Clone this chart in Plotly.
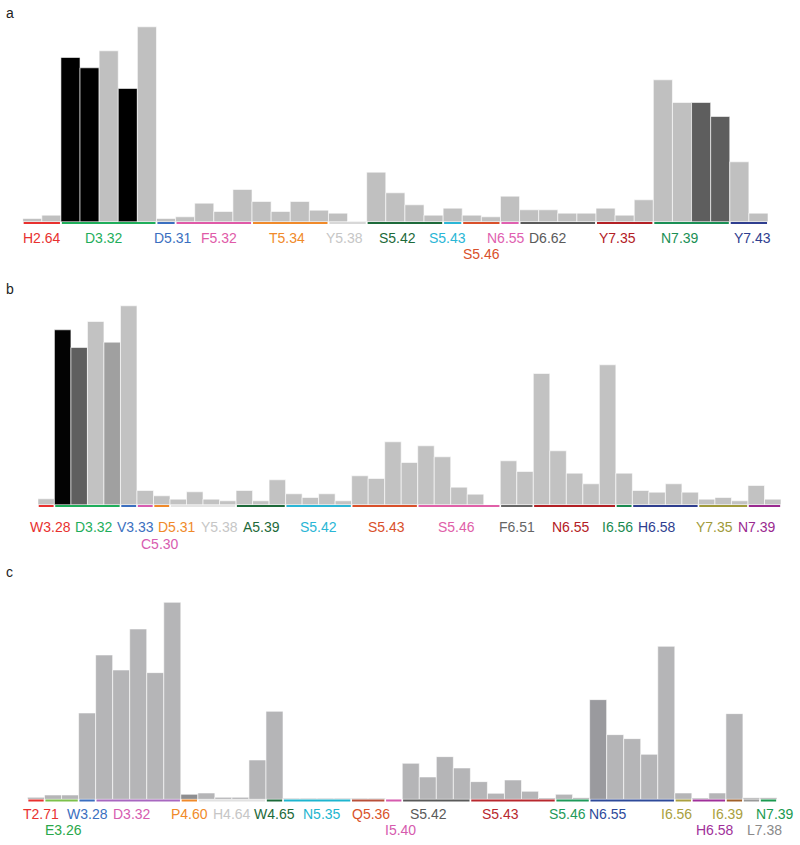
import plotly.graph_objects as go

FONT = "Liberation Sans, Arial, Helvetica, sans-serif"

# ---------------- panel a ----------------
A_RESIDUES = ["H2.64", "D3.32", "D5.31", "F5.32", "T5.34", "Y5.38", "S5.42",
              "S5.43", "S5.46", "N6.55", "D6.62", "Y7.35", "N7.39", "Y7.43"]
A_BARS_PER_RESIDUE = [2, 5, 1, 4, 4, 2, 4, 1, 2, 1, 4, 3, 4, 2]
A_FREQ = [1.0, 2.0, 49.3, 46.2, 51.3, 40.0, 58.5, 1.0, 1.5, 5.6,
          3.1, 9.7, 6.1, 3.1, 6.1, 3.5, 2.6, 0.2, 14.9, 8.7,
          5.1, 2.0, 4.1, 2.0, 1.5, 7.7, 3.6, 3.6, 2.6, 2.6,
          4.1, 2.0, 6.6, 42.6, 35.8, 35.8, 31.6, 18.0, 2.6]
# L = light, M = medium, D = dark, K = black
A_SHADE = "LLKKLKLLLL" "LLLLLLLLLL" "LLLLLLLLLL" "LLLLLDDLL"

# ---------------- panel b ----------------
B_RESIDUES = ["W3.28", "D3.32", "V3.33", "C5.30", "D5.31", "Y5.38", "A5.39", "S5.42",
              "S5.43", "S5.46", "F6.51", "N6.55", "I6.56", "H6.58", "Y7.35", "N7.39"]
B_BARS_PER_RESIDUE = [1, 4, 1, 1, 1, 4, 3, 4, 4, 5, 2, 5, 1, 4, 3, 2]
B_FREQ = [1.8, 52.5, 47.2, 55.0, 48.8, 59.7, 4.3, 2.7, 1.7, 3.9,
          1.7, 1.2, 4.3, 1.2, 7.5, 3.3, 2.2, 3.3, 1.2, 8.7,
          7.9, 18.9, 12.7, 17.7, 14.4, 5.3, 3.2, 0.0, 13.2, 10.0,
          39.4, 16.2, 9.5, 6.3, 42.0, 9.5, 4.3, 3.8, 6.3, 3.8,
          1.7, 2.2, 1.2, 5.8, 1.7]
B_SHADE = "LKDLMLLLLL" "LLLLLLLLLL" "LLLLLLLLLL" "LLLLLLLLLL" "LLLLL"

# ---------------- panel c ----------------
C_RESIDUES = ["T2.71", "E3.26", "W3.28", "D3.32", "P4.60", "H4.64", "W4.65", "N5.35",
              "Q5.36", "I5.40", "S5.42", "S5.43", "S5.46", "N6.55", "I6.56", "H6.58",
              "I6.39", "L7.38", "N7.39"]
C_BARS_PER_RESIDUE = [1, 2, 1, 5, 1, 4, 1, 4, 2, 1, 4, 5, 2, 5, 1, 2, 1, 1, 1]
C_FREQ = [0.6, 1.3, 1.3, 25.9, 43.3, 38.8, 51.1, 38.0, 59.1, 1.5,
          1.9, 0.6, 0.6, 11.8, 26.4, 0.3, 0.3, 0.3, 0.3, 0.3,
          0.3, 0.0, 10.8, 6.7, 12.8, 9.4, 5.3, 1.8, 5.8, 2.4,
          0.4, 1.5, 0.5, 29.9, 19.4, 18.2, 13.5, 45.9, 1.9, 0.4,
          1.9, 25.7, 0.5, 0.5]
C_SHADE = "LLLLLLLLLD" "LLLLLLLLLL" "LLLLLLLLLL" "LLLMLLLLLL" "LLLL"

# ---------------- styling ----------------
A_COLORS = {"H2.64": "#e8312f", "D3.32": "#1fae5b", "D5.31": "#3b6fc0", "F5.32": "#e05aa8",
            "T5.34": "#f08a2a", "Y5.38": "#c6c6c6", "S5.42": "#1d6a3a", "S5.43": "#2ab6d6",
            "S5.46": "#d9502b", "N6.55": "#e060b0", "D6.62": "#5a5a5a", "Y7.35": "#b32025",
            "N7.39": "#1a8f55", "Y7.43": "#2f3e8f"}
B_COLORS = {"W3.28": "#e8312f", "D3.32": "#1fae5b", "V3.33": "#3b6fc0", "C5.30": "#d85cb0",
            "D5.31": "#f08a2a", "Y5.38": "#c6c6c6", "A5.39": "#1d6a3a", "S5.42": "#2ab6d6",
            "S5.43": "#d9502b", "S5.46": "#e060a8", "F6.51": "#666666", "N6.55": "#b32025",
            "I6.56": "#1a8a50", "H6.58": "#2f3e8f", "Y7.35": "#a09a3a", "N7.39": "#9a2a90"}
C_COLORS = {"T2.71": "#e8312f", "E3.26": "#2aa84a", "W3.28": "#3b6fc0", "D3.32": "#d65bb0",
            "P4.60": "#f08a2a", "H4.64": "#c6c6c6", "W4.65": "#1d6a3a", "N5.35": "#1eb5cf",
            "Q5.36": "#d9532b", "I5.40": "#d65bae", "S5.42": "#5a5a5a", "S5.43": "#b8282e",
            "S5.46": "#1f9a5a", "N6.55": "#2e4a9a", "I6.56": "#aaa040", "H6.58": "#a0309a",
            "I6.39": "#aaa040", "L7.38": "#8a8a8a", "N7.39": "#1a9a50"}
# underline colour where it differs from the label colour
LINE_OVERRIDE = {
    "a": {"Y5.38": "#d8d8d8"},
    "b": {"Y5.38": "#e4e4e4"},
    "c": {"E3.26": "#7cc04a", "D3.32": "#a868c0", "H4.64": "#e2e2e2",
          "Q5.36": "#b8503a", "I6.39": "#a0602a", "L7.38": "#9a9a9a"},
}
SHADES = {
    "a": {"L": "#c0c0c0", "D": "#5e5e5e", "K": "#000000"},
    "b": {"L": "#c2c2c2", "M": "#a0a0a0", "D": "#5f5f5f", "K": "#030303"},
    "c": {"L": "#b5b5b7", "M": "#9a9a9e", "D": "#8e8e90"},
}
# labels on the second text row, and small horizontal nudges (px) for readability
SECOND_ROW = {"a": ["S5.46"], "b": ["C5.30"], "c": ["E3.26", "I5.40", "H6.58", "L7.38"]}
NUDGE = {
    "a": {"D3.32": -5, "D5.31": 7, "F5.32": 5, "T5.34": -3, "Y5.38": -3, "S5.42": -7,
          "S5.43": -5, "N6.55": -4, "D6.62": -10, "Y7.35": -7, "N7.39": -12, "Y7.43": 4},
    "b": {"W3.28": 4, "D3.32": 7, "V3.33": 7, "C5.30": 15, "D5.31": 15, "Y5.38": 16,
          "A5.39": 1, "S5.43": 2, "S5.46": -2, "N6.55": -4, "I6.56": -7, "H6.58": -8,
          "Y7.35": -9, "N7.39": -7},
    "c": {"T2.71": 5, "E3.26": 2, "D3.32": -6, "N5.35": 5, "Q5.36": 3, "I5.40": 7,
          "S5.42": -8, "S5.43": -12, "S5.46": -5, "N6.55": -24, "I6.56": -7, "H6.58": 6,
          "I6.39": -7, "L7.38": 13, "N7.39": 7},
}

W, H = 800, 845
PX_PER_UNIT = 10 / 3
Y_LO, Y_HI = -1.5, 63

# x0, x1 = horizontal extent of bars; base = baseline; all in px from top-left
PANELS = [
    dict(key="a", residues=A_RESIDUES, spans=A_BARS_PER_RESIDUE, freq=A_FREQ, shade=A_SHADE,
         colors=A_COLORS, x0=22.7, x1=768, base=221.8, rows=(16, 32.5), letter_y=13),
    dict(key="b", residues=B_RESIDUES, spans=B_BARS_PER_RESIDUE, freq=B_FREQ, shade=B_SHADE,
         colors=B_COLORS, x0=37.9, x1=781, base=504.8, rows=(21.7, 38.8), letter_y=289),
    dict(key="c", residues=C_RESIDUES, spans=C_BARS_PER_RESIDUE, freq=C_FREQ, shade=C_SHADE,
         colors=C_COLORS, x0=27.5, x1=777, base=799.3, rows=(14.5, 30.5), letter_y=572),
]


def fx(px):
    return px / W


def fy(py):
    return 1 - py / H


fig = go.Figure()
layout_axes = {}

for n, p in enumerate(PANELS, start=1):
    assert len(p["freq"]) == len(p["shade"]) == sum(p["spans"])
    xa = "x" if n == 1 else f"x{n}"
    ya = "y" if n == 1 else f"y{n}"
    nbar = len(p["freq"])
    key = p["key"]

    fig.add_trace(go.Bar(
        x=list(range(nbar)), y=p["freq"], width=1,
        marker=dict(color=[SHADES[key][s] for s in p["shade"]],
                    line=dict(color="rgba(255,255,255,0.85)", width=0.7)),
        xaxis=xa, yaxis=ya, hoverinfo="skip", showlegend=False,
    ))

    start = 0
    for res, span in zip(p["residues"], p["spans"]):
        col = p["colors"][res]
        lcol = LINE_OVERRIDE[key].get(res, col)
        fig.add_trace(go.Scatter(
            x=[start - 0.5 + 0.05, start + span - 0.5 - 0.05], y=[-0.35, -0.35],
            mode="lines", line=dict(color=lcol, width=2),
            xaxis=xa, yaxis=ya, hoverinfo="skip", showlegend=False,
        ))
        row = 1 if res in SECOND_ROW[key] else 0
        fig.add_annotation(
            x=start + (span - 1) / 2, y=0, xref=xa, yref=ya, text=res, showarrow=False,
            font=dict(family=FONT, size=14, color=col),
            xanchor="center", yanchor="middle",
            yshift=-p["rows"][row], xshift=NUDGE[key].get(res, 0),
        )
        start += span

    fig.add_annotation(
        x=fx(9.5), y=fy(p["letter_y"]), xref="paper", yref="paper", text=key,
        showarrow=False, font=dict(family=FONT, size=14, color="#222222"),
        xanchor="center", yanchor="middle",
    )

    ybot = fy(p["base"] - Y_LO * PX_PER_UNIT)
    ytop = fy(p["base"] - Y_HI * PX_PER_UNIT)
    suffix = "" if n == 1 else str(n)
    layout_axes["xaxis" + suffix] = dict(domain=[fx(p["x0"]), fx(p["x1"])],
                                         range=[-0.5, nbar - 0.5], visible=False,
                                         fixedrange=True)
    layout_axes["yaxis" + suffix] = dict(domain=[ybot, ytop], range=[Y_LO, Y_HI],
                                         visible=False, fixedrange=True)

fig.update_layout(
    width=W, height=H,
    margin=dict(l=0, r=0, t=0, b=0),
    paper_bgcolor="white", plot_bgcolor="white",
    showlegend=False, hovermode=False,
    **layout_axes,
)

# drop the browser's default 8px body margin so the figure fills the window exactly
fig.write_html(
    "out.html",
    config={"displayModeBar": False, "staticPlot": True},
    post_script="document.body.style.margin = '0';",
)
